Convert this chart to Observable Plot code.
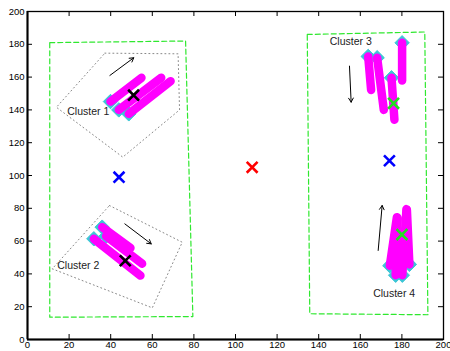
<!DOCTYPE html>
<html><head><meta charset="utf-8">
<script src="https://cdn.jsdelivr.net/npm/d3@7"></script>
<script src="https://cdn.jsdelivr.net/npm/@observablehq/plot@0.6"></script>
<style>body{margin:0;background:#fff;} svg{display:block;}</style>
</head><body><div id="chart"></div>
<script>
const xTicks = [0,20,40,60,80,100,120,140,160,180,200];
const yTicks = [0,20,40,60,80,100,120,140,160,180,200];

// trajectories: [start, end] (start marked with cyan diamond)
const cluster1Paths = [[[39.9,145.1],[54.8,159.6]],[[43.9,140.0],[64.3,159.6]],[[48.7,137.6],[68.8,157.5]]];
const cluster2Paths = [[[31.9,61.4],[54.3,39.0]],[[35.9,68.5],[49.5,55.8]],[[37.8,63.0],[55.1,46.2]]];
const cluster3Paths = [[[163.8,172.6],[165.2,152.2]],[[168.1,171.8],[171.3,140.0]],[[175.0,159.6],[176.4,134.0]],[[180.1,180.9],[180.1,157.9]]];
const cluster4Paths = [[[174.2,45.0],[177.6,74.6]],[[177.0,39.2],[178.0,74.0]],[[180.2,39.2],[182.2,79.5]],[[183.6,45.8],[182.4,79.0]]];

const centersRed = [[108,105]];
const centersBlue = [[44,99],[174,109]];
const centersBlack = [[51,149],[47,48]];
const centersGreen = [[176,144],[180,64]];

const boxLeft = [[10.7,181],[76,182],[79.5,14],[10.7,13.6]];
const boxRight = [[134.5,186],[191,187.5],[192.5,15.1],[135.7,15.7]];

const hull1 = [[37.2,174.6],[72.4,174.2],[73.1,140.0],[45.8,111.2],[13.9,141.6]];
const hull2 = [[39.4,81.7],[74.4,59.3],[60.0,19.3],[11.9,43.1]];

const arrowFrom = [[39.6,161],[46.8,70.5],[154.8,166.7],[168.6,54.3]];
const arrowTo = [[51.1,171.8],[59.5,58.3],[155.6,144.7],[170.5,81.7]];

const labelText = ["Cluster 1","Cluster 2","Cluster 3","Cluster 4"];
const labelX = [19.1,14.3,145.3,166.2];
const labelY = [138.8,45.1,181.7,28.2];

const allPaths = [...cluster1Paths, ...cluster2Paths, ...cluster3Paths, ...cluster4Paths];
const starts = allPaths.map(p => p[0]);
const arrows = arrowFrom.map((f, i) => ({f, t: arrowTo[i]}));
const labels = labelText.map((t, i) => ({t, x: labelX[i], y: labelY[i]}));
const X = d => d[0], Y = d => d[1];
const FONT = "'Liberation Sans', Arial, sans-serif";

const cross = (data, color) => Plot.dot(data, {x: X, y: Y, symbol: "times", r: 5, stroke: color, strokeWidth: 2.6});

const chart = Plot.plot({
  width: 450, height: 351,
  marginLeft: 27, marginRight: 7, marginTop: 11, marginBottom: 12,
  style: {fontFamily: FONT, fontSize: "9.5px", background: "#fff", color: "#000"},
  x: {domain: [0, 200]},
  y: {domain: [0, 200]},
  marks: [
    Plot.line(boxLeft, {x: X, y: Y, curve: "linear-closed", stroke: "#2fe82f", strokeWidth: 1.2, strokeDasharray: "5,3"}),
    Plot.line(boxRight, {x: X, y: Y, curve: "linear-closed", stroke: "#2fe82f", strokeWidth: 1.2, strokeDasharray: "5,3"}),
    Plot.line(hull1, {x: X, y: Y, curve: "linear-closed", stroke: "#888", strokeWidth: 1, strokeDasharray: "1,3"}),
    Plot.line(hull2, {x: X, y: Y, curve: "linear-closed", stroke: "#888", strokeWidth: 1, strokeDasharray: "1,3"}),
    Plot.arrow(arrows, {x1: d => d.f[0], y1: d => d.f[1], x2: d => d.t[0], y2: d => d.t[1], stroke: "#000", strokeWidth: 1, headLength: 7}),
    Plot.dot(starts, {x: X, y: Y, symbol: "diamond2", r: 6.5, fill: "#3cc6d6", stroke: "#3cc6d6", strokeWidth: 1}),
    Plot.link(allPaths, {x1: d => d[0][0], y1: d => d[0][1], x2: d => d[1][0], y2: d => d[1][1], stroke: "#ff00ff", strokeWidth: 8.5, strokeLinecap: "round"}),
    cross(centersRed, "#ff0000"),
    cross(centersBlue, "#0000ff"),
    cross(centersBlack, "#000000"),
    cross(centersGreen, "#22dd22"),
    Plot.text(labels, {x: "x", y: "y", text: "t", textAnchor: "start", fontSize: 10.5, fill: "#222"}),
    Plot.frame({stroke: "#000", strokeWidth: 1.3}),
    Plot.ruleY([0], {stroke: "#000", strokeWidth: 2}),
    Plot.ruleX([0], {stroke: "#000", strokeWidth: 2}),
    Plot.tickX(xTicks.slice(1, -1), {x: d => d, insetTop: 323, stroke: "#000"}),
    Plot.tickX(xTicks.slice(1, -1), {x: d => d, insetBottom: 323, stroke: "#000"}),
    Plot.tickY(yTicks.slice(1, -1), {y: d => d, insetRight: 411, stroke: "#000"}),
    Plot.tickY(yTicks.slice(1, -1), {y: d => d, insetLeft: 411, stroke: "#000"}),
    Plot.axisX({ticks: xTicks, tickSize: 0, tickPadding: 2, tickFormat: d => String(d), label: null}),
    Plot.axisY({ticks: yTicks, tickSize: 0, tickPadding: 3, tickFormat: d => String(d), label: null})
  ]
});
document.getElementById("chart").appendChild(chart);
</script>
</body></html>
